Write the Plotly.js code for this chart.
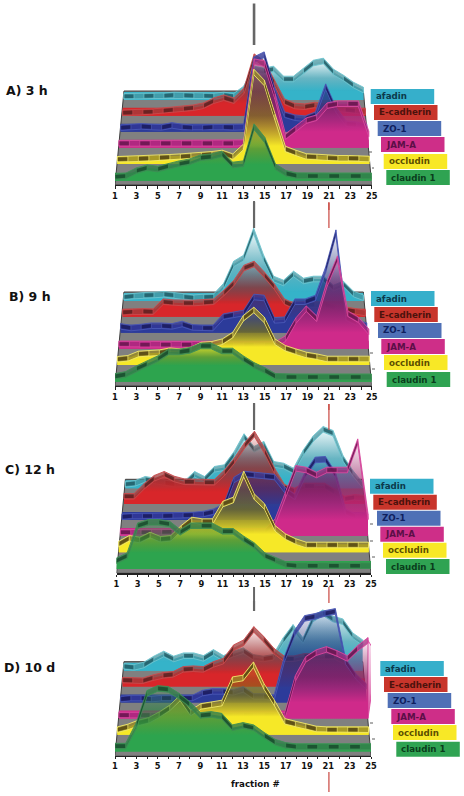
<!DOCTYPE html>
<html><head><meta charset="utf-8">
<script src="https://cdn.plot.ly/plotly-3.0.0.min.js"></script>
<style>html,body{margin:0;padding:0;background:#fff}#c{width:464px;height:796px}</style></head>
<body><div id="c"></div>
<script>
const fractions=[1,2,3,4,5,6,7,8,9,10,11,12,13,14,15,16,17,18,19,20,21,22,23,24,25];
const tickLabels=['1','','3','','5','','7','','9','','11','','13','','15','','17','','19','','21','','23','','25'];
const proteins=['afadin','E-cadherin','ZO-1','JAM-A','occludin','claudin 1'];
const panelTitles=['A) 3 h','B) 9 h','C) 12 h','D) 10 d'];
// Signal height of every fraction, per protein and time point
const afadin3h=[3.7,3.7,4,4.3,4.3,5,4.7,4.3,4.3,4,5,3.7,11,31,29,31,21,21,29,37,39,28,22,15,10];
const ecad3h=[3,3.3,3.7,4,5,6,7,8,10,15,18,15,25,59,52,33,14,9.7,9,10.7,9,7.3,6,5,4];
const zo3h=[4,4.7,5.3,4.7,4.3,6.3,4.7,4,4,4.7,4.7,4.3,4.7,72,77,42,17,14,13,17,45,22,8,7,5];
const jam3h=[4.3,4.3,4.3,4.3,4.3,4.3,4.3,4.3,4.3,4.3,4.3,4.3,5,86,84,51,11,19,27,30,42,44,44,44,14];
const occ3h=[4.7,5,5.3,5.7,6.3,6.7,7.3,8,9,9.7,11,7.3,17,92,81,47,15,11,7.5,7,6,5.7,5.7,5.7,5];
const clau3h=[4,4.7,10,13,11.7,14.7,17,19,23,24,26.7,15.7,17,54,40.7,14,7.3,5,4.7,4.7,4.7,4.7,4.7,4.7,4.7];
const afadin9h=[4,5,5.7,6,6.7,5.7,4.3,3.3,4,4.3,15,37,43,70,43,22,18,27,20,22,22,13,17,7,3.3];
const ecad9h=[4.3,5,5.3,5,15,14,13.7,13.7,14.3,15,23.7,33.7,48.7,52.7,42,30,15,10.3,12,12,12,8.7,7,5.3,3.7];
const zo9h=[6.3,4.7,5.7,7,7,6.3,8.7,5.3,4.7,4.7,16,18,19.7,35.7,34.7,12.3,13,31,31,34.7,63,100,15,10,7];
const jam9h=[4.7,4.7,4,4,4,4,4,4,4.7,4.7,4,4,4,4,4,4,10,28,40,30,65,90,35,29,17];
const occ9h=[5.7,6.7,11,11.7,12.3,14.3,13.3,15,20,20.7,23.3,30,46.7,55,45,23.3,16.7,13.3,10,8.3,6,6,6,6,6];
const clau9h=[5.3,7.3,13,18,23,29.7,29.7,31.3,35.7,35.7,30.7,30.7,23,16.3,11.3,5.3,4.7,4.7,4.7,4.7,4.7,4.7,4.7,4.7,4.7];
const afadin12h=[4,5,9,7.3,5.7,4,4.7,14,9,19,20.7,34,51.7,39,44,24,22.3,17.3,35.7,49.7,59,55,30,15,3];
const ecad12h=[7.7,7.7,17.7,25.7,29.7,25,22.3,22.3,21.7,21.7,31,43.3,58.3,70,53.3,33,16.7,13,18,18,18,11.7,5,6.7,5.7];
const zo12h=[3.3,4,4,4,4,4.3,4.7,5,6,8.3,13.3,40,46,45,44,43,30,23,45,60,60.7,45,8,3.3,5];
const jam12h=[3.7,3.7,3.7,3.7,4,4.3,4.3,4.3,4.3,4.3,4.3,4.3,4.3,4.3,4.3,14.3,41,67.7,66,61,66,66,66,94.3,19.3];
const occ12h=[8.3,14,12.3,17.3,13,14,24,32.3,30.7,30.7,48.3,52.3,78.3,55.7,45.7,24,15.7,10.7,7.3,7.3,7.3,7.3,7.3,7.3,7.3];
const clau12h=[8.3,13.3,43.3,46.7,46.7,45,36.7,43.3,43.3,43.3,37.7,37.7,30,23.3,13.3,9,4.3,3.3,3.3,3.3,3.3,3.3,3.3,3.3,3.3];
const afadin10d=[4.3,3.3,5.7,11.7,16.7,11.7,15,15,12.3,18.3,12.3,16.7,20,13.3,11.7,13.3,30,43.3,30,51.7,58,51.7,49,35,28];
const ecad10d=[6.3,6,5.7,8.7,11,12,17,17.7,17,22,25.3,38.7,43.7,57,47,35.3,27.7,27.7,30,30,30,30,25,8.7,2];
const zo10d=[3.3,4.3,4.3,3.3,4.3,4.3,4.3,4.3,9.3,11,11,10,13,6,6,4.3,42.7,69,84,86,89,91,41,26,16];
const jam10d=[3.3,3.3,3.3,3.3,3.3,3.3,3.3,3.3,3.3,3.3,3.3,3.3,3.3,3.3,3.3,3.3,3.3,40,59,65.7,69,65,60,70,78];
const occ10d=[5,7.7,11.7,14.3,20,26.7,36.7,21.7,28.3,30,31.7,55,56.7,70,48.3,31.7,13.3,10.7,8.3,5.7,5,5,5,5,5];
const clau10d=[5.3,5.3,26,58,63,62,55.3,47,36,37,35.3,23.7,26,23.7,16,9.3,6,4.7,4.7,4.7,4.7,4.7,4.7,4.7,4.7];
// JAM-A overhang past fraction 25 in panel D
const jamTailFractions=[25,25.85];
const jamTailValues=[78,63];

const panelData=[
 [afadin3h,ecad3h,zo3h,jam3h,occ3h,clau3h],
 [afadin9h,ecad9h,zo9h,jam9h,occ9h,clau9h],
 [afadin12h,ecad12h,zo12h,jam12h,occ12h,clau12h],
 [afadin10d,ecad10d,zo10d,jam10d,occ10d,clau10d]];

const W=464,H=796,PH=160;
const axisY=[185,386,573.3,755.7], axisL=[115,115,116.5,115], axisR=[371.7,371.7,371,371];
const titleXY=[[4,91],[7,296],[3,470],[2,667]];
const baseH=[85,69.3,53.3,37.3,21,4.3];
const bandPx=8;
const insetL=[.84,.72,.53,.37,.22,0], insetR=[.78,.59,.47,.28,.22,0];
const rgb=[[53,179,201],[216,38,42],[44,59,154],[207,42,138],[246,232,39],[45,164,78]];
const midShade=[.85,.7,.8,.72,.5,.8];
const solidPx=[9,12,12,16,18,16];
const edge=['#6cc4cf','#c94a4c','#4a58b5','#d9489e','#f2e96a','#3d8f55'];
const ribbon=['rgba(70,150,160,.75)','rgba(160,60,60,.75)','rgba(50,55,150,.8)','rgba(165,40,125,.75)','rgba(150,135,40,.8)','rgba(50,125,75,.8)'];
const ribbonDark=['rgba(30,90,100,.8)','rgba(90,30,30,.8)','rgba(25,25,90,.8)','rgba(100,20,75,.8)','rgba(85,70,20,.85)','rgba(25,75,45,.85)'];
const legendFill=['#36afcb','#c8352b','#4f70b6','#ce2e88','#f8e826','#2fa352'];
const legendInk=['#0c3a4c','#4b120d','#0f1f5e','#5b0f47','#5c4f00','#0a3d1c'];
const legendX=[[370.7,374,377.7,381,383.7,386.3],[371,374.3,378,381.3,384,386.7],[370,373.3,377,380.3,383,386],[380.3,384,387.7,391.3,393,396.3]];
const legendY=[[89,105,121,137,154,170],[291,307,323,339,355,372],[478.7,494.7,510.7,526.7,542.7,559],[661,677,693,709,725,741.7]];
const legendW=63.5,legendH=15;
const markers=[
 [14,'#666',3.5,45,2.6],[14,'#666',201,210,2],[21,'#c9463f',203,210,1.2],
 [14,'#666',202,228,2.2],[21,'#c9463f',202,228,1.2],[14,'#666',404,410,2],[21,'#c9463f',404,410,1.2],
 [14,'#666',403,430,2.2],[21,'#c9463f',404,430,1.2],[14,'#666',587,601,2],[21,'#c9463f',587,601,1.2],
 [14,'#666',601,611,2.2],[21,'#c9463f',601,603,1.2],[21,'#c9463f',772,792,1.2]];
const edgeTicks=[[368,371,152],[371,373,168],[369,372,353],[371,374,369],[369,372,524],[369,372,541],[371,374,557],[369,372,723],[371,374,739]];

const traces=[],layout={width:W,height:H,margin:{l:0,r:0,t:0,b:0},paper_bgcolor:'#fff',plot_bgcolor:'rgba(0,0,0,0)',showlegend:false,hovermode:false,shapes:[],annotations:[]};
const pxY=y=>1-y/H;
const shade=(c,k)=>c.map(v=>Math.round(v*k)).join(',');
panelData.forEach((series,p)=>{
  const n=p?p+1:'';const xa='x'+n,ya='y'+n;
  layout['xaxis'+n]={domain:[axisL[p]/W,axisR[p]/W],range:[1,25],anchor:ya,tickmode:'array',tickvals:fractions,ticktext:tickLabels,ticks:'outside',ticklen:2.5,tickwidth:1,tickcolor:'#222',showline:true,linecolor:'#222',linewidth:1.2,showgrid:false,zeroline:false,tickfont:{family:'DejaVu Sans',size:8.3,weight:'bold',color:'#111'}};
  layout['yaxis'+n]={domain:[(H-axisY[p])/H,(H-axisY[p]+PH)/H],range:[0,PH],anchor:xa,visible:false,fixedrange:true};
  const xAt=(f,s)=>{const a=1+insetL[s],b=25-insetR[s];return a+(f-1)*(b-a)/24;};
  traces.push({x:[xAt(1,0),xAt(25,0),25,1,xAt(1,0)],y:[94,94,0,0,94],xaxis:xa,yaxis:ya,mode:'lines',fill:'toself',fillcolor:'#808080',line:{color:'#3e3e3e',width:1},cliponaxis:false});
  series.forEach((vals,s)=>{
    const xs=fractions.map(f=>xAt(f,s)),b=baseH[s],c=rgb[s].join(','),dk=shade(rgb[s],midShade[s]);
    const ys=vals.map(v=>b+v),top=Math.max(...vals)+2;
    const sp=Math.min(.6,solidPx[s]/top);
    if(p===3&&s===3){
      traces.push({x:[xs[24],xAt(jamTailFractions[1],s),xs[24],xs[24]],y:[b+jamTailValues[0],b+jamTailValues[1],b,b+jamTailValues[0]],xaxis:xa,yaxis:ya,mode:'lines',fill:'toself',cliponaxis:false,line:{color:edge[s],width:.9},
        fillgradient:{type:'vertical',start:b,stop:b+top,colorscale:[[0,`rgba(${c},.9)`],[.6,`rgba(${c},.35)`],[1,`rgba(${c},.12)`]]}});
    }
    traces.push({x:[xs[0],xs[24],xs[24],xs[0],xs[0]],y:[b,b,b+bandPx,b+bandPx,b],xaxis:xa,yaxis:ya,mode:'none',fill:'toself',fillcolor:`rgb(${c})`,cliponaxis:false});
    traces.push({x:[...xs,xs[24],xs[0]],y:[...ys,b,b],xaxis:xa,yaxis:ya,mode:'none',fill:'toself',cliponaxis:false,
      fillgradient:{type:'vertical',start:b,stop:b+top,colorscale:[[0,`rgba(${c},1)`],[sp,`rgba(${c},1)`],[sp+(1-sp)*.4,`rgba(${dk},.72)`],[sp+(1-sp)*.72,`rgba(${dk},.35)`],[1,`rgba(${c},.06)`]]}});
    const up=ys.map(y=>y+2.8),dn=ys.map(y=>y-2.8);
    traces.push({x:[...xs,...[...xs].reverse(),xs[0]],y:[...up,...[...dn].reverse(),up[0]],xaxis:xa,yaxis:ya,mode:'lines',fill:'toself',fillcolor:ribbon[s],line:{color:edge[s],width:.9},cliponaxis:false});
    const ax=[],ay=[];
    for(let i=0;i<24;i+=2){ax.push(xs[i],xs[i+1],xs[i+1],xs[i],xs[i],null);ay.push(up[i]-1,up[i+1]-1,dn[i+1]+1,dn[i]+1,up[i]-1,null);}
    traces.push({x:ax,y:ay,xaxis:xa,yaxis:ya,mode:'none',fill:'toself',fillcolor:ribbonDark[s],cliponaxis:false});
    const rx=[],ry=[];xs.forEach((x,i)=>{rx.push(x,x,null);ry.push(dn[i],up[i],null);});
    traces.push({x:rx,y:ry,xaxis:xa,yaxis:ya,mode:'lines',line:{color:edge[s],width:.7},cliponaxis:false});
    layout.shapes.push({type:'rect',xref:'paper',yref:'paper',x0:legendX[p][s]/W,x1:(legendX[p][s]+legendW)/W,y0:pxY(legendY[p][s]),y1:pxY(legendY[p][s]+legendH),fillcolor:legendFill[s],line:{width:0},layer:'above'});
    layout.annotations.push({xref:'paper',yref:'paper',x:(legendX[p][s]+3)/W,y:pxY(legendY[p][s]+legendH/2),xanchor:'left',yanchor:'middle',showarrow:false,text:'<b>'+proteins[s]+'</b>',font:{family:'DejaVu Sans',size:8.7,color:legendInk[s]}});
  });
  layout.annotations.push({xref:'paper',yref:'paper',x:titleXY[p][0]/W,y:pxY(titleXY[p][1]),xanchor:'left',yanchor:'middle',showarrow:false,text:'<b>'+panelTitles[p]+'</b>',font:{family:'DejaVu Sans',size:12.5,color:'#111'}});
});
markers.forEach(m=>layout.shapes.push({type:'line',xref:'x',yref:'paper',x0:m[0],x1:m[0],y0:pxY(m[2]),y1:pxY(m[3]),line:{color:m[1],width:m[4]},layer:'above'}));
edgeTicks.forEach(t=>layout.shapes.push({type:'line',xref:'paper',yref:'paper',x0:(t[0]+1)/W,x1:(t[1]+1)/W,y0:pxY(t[2]),y1:pxY(t[2]),line:{color:'#333',width:.8}}));
layout.annotations.push({xref:'x4',yref:'paper',x:14.2,y:pxY(784),xanchor:'center',yanchor:'middle',showarrow:false,text:'<b>fraction #</b>',font:{family:'DejaVu Sans',size:8.7,color:'#111'}});
Plotly.newPlot('c',traces,layout,{displayModeBar:false,staticPlot:true});
</script></body></html>
